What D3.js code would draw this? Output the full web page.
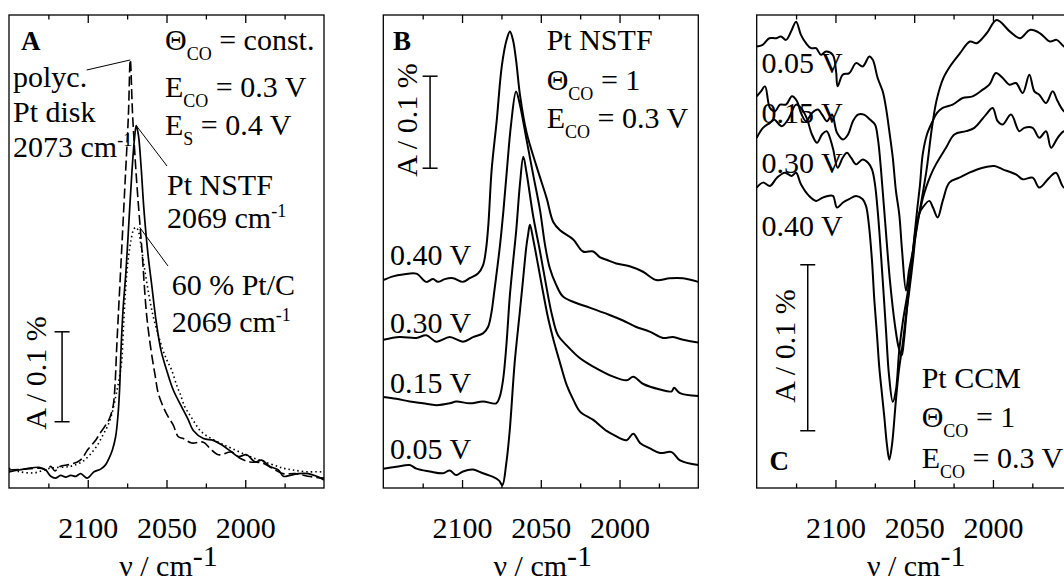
<!DOCTYPE html>
<html>
<head>
<meta charset="utf-8">
<script src="https://cdn.jsdelivr.net/npm/d3@7"></script>
<style>
  body { margin: 0; background: #fff; }
  svg { display: block; font-family: "Liberation Serif", "Times New Roman", serif; }
  text { white-space: pre; fill: #000; }
</style>
</head>
<body>
<svg id="chart" width="1064" height="583"></svg>
<script>
// wavenumber axis (cm-1), same for all three panels
var xDomain = [2150, 1950];
var majorTicks = [2100, 2050, 2000];
var minorTicks = [2125, 2075, 2025, 1975];
var potentials = ["0.40 V", "0.30 V", "0.15 V", "0.05 V"];

// spectra: [wavenumber, absorbance in units of 0.1 %]
// panel A
var specA_disk = [[2150,0.20],[2139.8,0.21],[2130.3,0.22],[2125.7,0.20],[2123.5,0.24],[2120.8,0.19],[2117.6,0.24],[2111.9,0.26],[2106.6,0.29],[2103.5,0.33],[2100.3,0.42],[2095,0.53],[2092.9,0.59],[2088.6,0.70],[2086.5,0.76],[2084,0.90],[2082.7,1.14],[2081.7,1.53],[2080.6,1.92],[2078.4,2.67],[2076.3,3.40],[2074.2,4.14],[2073,4.76],[2071.5,4.14],[2068.9,3.40],[2065.7,2.67],[2062.6,1.92],[2059.8,1.53],[2057.3,1.26],[2055.2,1.05],[2052,0.90],[2048.9,0.79],[2045.7,0.70],[2042.5,0.57],[2039.3,0.55],[2034,0.50],[2026.6,0.51],[2022.4,0.44],[2017.1,0.37],[2008.6,0.40],[2003.3,0.33],[1997,0.29],[1989.4,0.28],[1983,0.22],[1976,0.16],[1968.4,0.16],[1960.2,0.13],[1950,0.11]];
var specA_NSTF = [[2150,0.18],[2143.7,0.20],[2131,0.23],[2126.7,0.20],[2123.5,0.13],[2120.3,0.11],[2117.2,0.14],[2114,0.12],[2110.8,0.14],[2107.6,0.13],[2104.5,0.16],[2100.3,0.11],[2096,0.18],[2091.8,0.21],[2088.6,0.26],[2086.5,0.33],[2084.4,0.42],[2082.3,0.57],[2080.8,0.81],[2079.8,1.09],[2078.9,1.53],[2077.6,1.98],[2075.7,2.42],[2073.8,2.98],[2071.9,3.53],[2070.3,3.89],[2069.2,4.03],[2067.8,3.92],[2066.2,3.59],[2064.3,3.09],[2061.7,2.59],[2059.4,2.26],[2056.7,1.87],[2053.5,1.53],[2049.9,1.31],[2045.7,1.09],[2040.3,0.90],[2036.2,0.76],[2033,0.64],[2026.6,0.55],[2020.3,0.53],[2015,0.48],[2008.6,0.40],[2004.4,0.35],[1999.1,0.37],[1993.8,0.29],[1989.6,0.31],[1984.3,0.24],[1979,0.20],[1975.8,0.13],[1971.6,0.14],[1966.3,0.16],[1960,0.16],[1954.6,0.13],[1950,0.09]];
var specA_PtC = [[2150,0.22],[2143,0.18],[2133.5,0.17],[2124,0.22],[2111.3,0.24],[2103.7,0.29],[2098.6,0.37],[2094.1,0.47],[2090.3,0.59],[2087.1,0.70],[2084.6,0.83],[2082.1,1.03],[2080.2,1.20],[2078.4,1.42],[2077.4,1.76],[2076,2.20],[2074.4,2.53],[2072.5,2.76],[2071,2.87],[2069.6,2.90],[2068.1,2.87],[2066.2,2.70],[2064.3,2.48],[2061.7,2.20],[2058.6,1.92],[2055.2,1.70],[2052.2,1.53],[2049.7,1.42],[2046.7,1.31],[2043.5,1.14],[2041.4,1.05],[2038.3,0.90],[2035.1,0.81],[2031.9,0.72],[2028.7,0.64],[2023.5,0.57],[2016,0.50],[2008.6,0.44],[1997,0.35],[1984.3,0.27],[1975.8,0.22],[1969.5,0.20],[1961,0.18],[1952.5,0.18],[1950,0.17]];

// panel B (Pt NSTF, potential series)
var specB_040 = [[2150,2.26],[2143.8,2.30],[2137.5,2.32],[2129,2.33],[2122.7,2.24],[2118.4,2.27],[2115.3,2.24],[2111,2.27],[2105.7,2.28],[2099.4,2.24],[2095.1,2.28],[2089.9,2.33],[2086.7,2.42],[2084.8,2.59],[2083.3,2.86],[2081.2,3.46],[2078,3.99],[2074.8,4.58],[2071.7,4.87],[2069.6,4.96],[2067.7,4.87],[2065.7,4.65],[2063.2,4.27],[2059,3.86],[2052.6,3.49],[2046.3,3.15],[2042.1,2.89],[2037.8,2.80],[2029.4,2.70],[2023.2,2.57],[2016.7,2.57],[2012.6,2.51],[2008.2,2.48],[2002.1,2.44],[1993.6,2.41],[1985.1,2.35],[1976.7,2.26],[1968.2,2.28],[1959.7,2.28],[1950,2.24]];
var specB_030 = [[2150,1.61],[2139.6,1.64],[2129,1.63],[2122.7,1.66],[2116.3,1.59],[2107.8,1.64],[2099.4,1.59],[2093,1.64],[2086.7,1.68],[2083.5,1.75],[2081.4,1.90],[2079.8,2.10],[2077.8,2.37],[2075.9,2.64],[2073.7,3.02],[2071.5,3.46],[2068.9,3.95],[2065.7,4.31],[2063.2,4.16],[2059,3.78],[2054.8,3.40],[2050.5,3.02],[2047.3,2.64],[2044.3,2.39],[2040.3,2.21],[2035.9,2.08],[2027.5,2.01],[2019,1.96],[2006.3,1.88],[1997.8,1.82],[1989.4,1.75],[1980.9,1.70],[1972.4,1.63],[1966.1,1.64],[1959.7,1.61],[1950,1.58]];
var specB_015 = [[2150,0.99],[2141.7,0.97],[2133.2,0.94],[2124.8,0.92],[2116.3,0.90],[2107.8,0.92],[2103.7,0.94],[2095.1,0.92],[2086.7,0.94],[2078.3,0.92],[2076.1,0.99],[2074,1.17],[2071.9,1.54],[2069.7,2.08],[2067.7,2.44],[2065.6,2.80],[2063.2,3.31],[2061.1,3.60],[2059,3.42],[2054.8,2.95],[2050.5,2.57],[2046.7,2.21],[2042.9,1.88],[2039.1,1.66],[2033.6,1.55],[2025.1,1.41],[2016.7,1.32],[2004,1.21],[1995.5,1.17],[1991.3,1.21],[1984.9,1.13],[1974.3,1.07],[1966.9,1.05],[1965.4,1.09],[1961.6,1.03],[1950,1.00]];
var specB_005 = [[2150,0.21],[2141.7,0.23],[2133.2,0.25],[2129,0.21],[2120.5,0.18],[2112.1,0.16],[2107.8,0.19],[2103.7,0.14],[2099.4,0.18],[2093,0.20],[2086.7,0.16],[2080.3,0.12],[2076.5,0.08],[2074.4,0.03],[2071.9,0.27],[2069.7,0.63],[2066.6,1.36],[2063.4,1.90],[2061.3,2.26],[2059.2,2.62],[2058.1,2.75],[2056.9,2.86],[2054.8,2.70],[2051.6,2.41],[2048.6,2.13],[2045.4,1.85],[2042.1,1.62],[2037.8,1.36],[2033.6,1.12],[2029.4,0.96],[2025.1,0.83],[2016.7,0.74],[2008.2,0.62],[2004,0.58],[1995.5,0.52],[1991.3,0.59],[1987,0.49],[1980.7,0.43],[1974.3,0.38],[1966.9,0.39],[1961.6,0.30],[1950,0.25]];

// panel C (Pt CCM, potential series)
var specC_005 = [[2150,2.66],[2146.2,2.67],[2142,2.71],[2137.7,2.71],[2134.6,2.72],[2131.4,2.70],[2128.2,2.75],[2125,2.81],[2121.9,2.73],[2118.7,2.68],[2115.5,2.65],[2112.3,2.65],[2109.2,2.61],[2106,2.63],[2101.7,2.61],[2099.6,2.51],[2098.6,2.42],[2095.4,2.49],[2091.2,2.50],[2086.9,2.56],[2082.7,2.54],[2078.5,2.60],[2076.3,2.58],[2073.2,2.47],[2070,2.39],[2067.9,2.29],[2065.8,2.15],[2063.6,1.99],[2061.6,1.79],[2059.5,1.65],[2057.7,1.43],[2055.2,1.19],[2053.3,1.31],[2050.8,1.43],[2046.3,1.68],[2042.1,1.92],[2038.9,2.16],[2035.7,2.34],[2031.5,2.47],[2027.3,2.54],[2020.9,2.62],[2014.6,2.69],[2010.3,2.68],[2004,2.74],[1997.6,2.82],[1989.2,2.75],[1982.8,2.71],[1976.5,2.76],[1970.1,2.74],[1963.8,2.69],[1959.5,2.70],[1954.9,2.66],[1950,2.64]];
var specC_015 = [[2150,2.36],[2147.3,2.39],[2144.7,2.42],[2141.6,2.29],[2138.4,2.27],[2135.2,2.31],[2131.4,2.31],[2127.6,2.36],[2124.4,2.33],[2121.9,2.26],[2118.7,2.21],[2114.9,2.26],[2111.1,2.28],[2108.5,2.25],[2105.4,2.21],[2102.2,2.25],[2099,2.14],[2095.2,2.10],[2092,2.13],[2088.9,2.21],[2085.7,2.25],[2081.9,2.25],[2078.1,2.22],[2074.9,2.19],[2073,2.10],[2071.1,1.92],[2068.5,1.61],[2065.4,1.25],[2062.2,0.98],[2059.7,0.84],[2057.9,0.80],[2056.5,0.89],[2054.1,1.13],[2050.8,1.43],[2048.2,1.67],[2046.3,1.83],[2044.6,2.01],[2041.9,2.13],[2038.3,2.21],[2035.5,2.26],[2031.9,2.29],[2025.6,2.31],[2019.2,2.35],[2012.9,2.36],[2006.5,2.40],[2002.3,2.43],[1998.1,2.50],[1993.8,2.47],[1989.6,2.43],[1985.4,2.44],[1981.1,2.38],[1976.9,2.49],[1973.7,2.39],[1970.6,2.37],[1966.3,2.32],[1962.1,2.39],[1958.9,2.33],[1954.9,2.27],[1950,2.25]];
var specC_030 = [[2150,2.11],[2146,2.17],[2141.6,2.20],[2139,2.22],[2134.1,2.18],[2130.1,2.22],[2125,2.31],[2121.9,2.29],[2118.3,2.23],[2114.9,2.13],[2111.7,2.08],[2108.5,2.13],[2105.6,2.15],[2101.7,2.05],[2098.6,1.93],[2095.4,1.99],[2092.7,2.02],[2090.1,1.99],[2086.9,1.95],[2082.7,1.98],[2079.3,1.96],[2076.8,1.92],[2074.9,1.83],[2073,1.65],[2070.4,1.31],[2067.9,0.95],[2066,0.68],[2063.6,0.52],[2061.6,0.59],[2059.5,0.83],[2057.1,1.01],[2054.1,1.18],[2051.4,1.37],[2048.9,1.57],[2046.8,1.65],[2044.4,1.75],[2042.5,1.81],[2039.3,1.89],[2036.2,1.95],[2029.8,2.05],[2024.5,2.13],[2017.1,2.15],[2011.8,2.17],[2004.4,2.25],[2000.2,2.29],[1997,2.21],[1993.8,2.19],[1988.5,2.25],[1983.3,2.15],[1980.1,2.17],[1974.8,2.17],[1970.6,2.11],[1966.3,2.15],[1963.1,2.05],[1958.9,2.11],[1954.9,2.15],[1950,2.14]];
var specC_040 = [[2150,1.81],[2146,1.84],[2141.6,1.82],[2137.1,1.87],[2132.1,1.90],[2127.8,1.88],[2125,1.90],[2121.9,1.83],[2116.8,1.76],[2112.3,1.73],[2108.1,1.75],[2104.7,1.76],[2101.6,1.76],[2099,1.69],[2095.2,1.72],[2091.4,1.74],[2086.9,1.76],[2082.7,1.74],[2080.6,1.70],[2078.7,1.58],[2076.8,1.37],[2075.3,1.13],[2073.6,0.92],[2072.2,0.73],[2070.4,0.56],[2069,0.43],[2067.3,0.26],[2065.8,0.17],[2064.1,0.26],[2061.6,0.53],[2059.7,0.71],[2057.3,0.87],[2055.2,1.04],[2053.1,1.19],[2050.8,1.37],[2048.9,1.54],[2047,1.65],[2044.6,1.69],[2040.4,1.73],[2038.1,1.69],[2035.1,1.63],[2031.9,1.73],[2027.7,1.84],[2021.4,1.87],[2015,1.90],[2006.5,1.93],[1999.1,1.94],[1993.8,1.92],[1985.4,1.89],[1981.1,1.86],[1974.8,1.87],[1970.6,1.81],[1964.2,1.87],[1960,1.90],[1954.9,1.81],[1950,1.84]];

var svg = d3.select("#chart");
var plotTop = 15, plotBottom = 488, plotW = 315;
var serif = '"Liberation Serif", "Times New Roman", serif';

function makePanel(left, yMax, id) {
  var x = d3.scaleLinear().domain(xDomain).range([left, left + plotW]);
  var y = d3.scaleLinear().domain([0, yMax]).range([plotBottom, plotTop]);
  var g = svg.append("g");

  svg.append("clipPath").attr("id", "clip" + id)
    .append("rect").attr("x", left).attr("y", plotTop)
    .attr("width", plotW).attr("height", plotBottom - plotTop);
  var curves = g.append("g").attr("clip-path", "url(#clip" + id + ")");

  g.append("rect")
    .attr("x", left).attr("y", plotTop)
    .attr("width", plotW).attr("height", plotBottom - plotTop)
    .attr("fill", "none").attr("stroke", "#000").attr("stroke-width", 1.3);

  // ticks point inwards on bottom and top edges
  var bottomAxis = g.append("g").attr("transform", "translate(0," + plotBottom + ")")
    .call(d3.axisBottom(x).tickValues(majorTicks).tickSize(-8).tickPadding(29).tickFormat(d3.format("d")));
  g.append("g").attr("transform", "translate(0," + plotBottom + ")")
    .call(d3.axisBottom(x).tickValues(minorTicks).tickSize(-4.5).tickFormat(""));
  g.append("g").attr("transform", "translate(0," + plotTop + ")")
    .call(d3.axisTop(x).tickValues(majorTicks).tickSize(-8).tickFormat(""));
  g.append("g").attr("transform", "translate(0," + plotTop + ")")
    .call(d3.axisTop(x).tickValues(minorTicks).tickSize(-4.5).tickFormat(""));
  g.selectAll(".domain").remove();
  g.selectAll(".tick line").attr("stroke", "#000").attr("stroke-width", 1.3);
  bottomAxis.attr("font-size", 30).attr("font-family", serif);
  bottomAxis.selectAll("text").attr("fill", "#000");

  // axis title
  var t = g.append("text")
    .attr("x", left + plotW / 2 + 2).attr("y", 576)
    .attr("text-anchor", "middle").attr("font-size", 30);
  t.append("tspan").text("\u03bd / cm");
  t.append("tspan").attr("dy", -10).text("-1");

  return { x: x, y: y, g: g, curves: curves };
}

function drawSpec(p, data, width, dash) {
  var line = d3.line()
    .x(function(d) { return p.x(d[0]); })
    .y(function(d) { return p.y(d[1]); })
    .curve(d3.curveCatmullRom.alpha(0.5));
  var path = p.curves.append("path")
    .datum(data)
    .attr("d", line)
    .attr("fill", "none")
    .attr("stroke", "#000")
    .attr("stroke-width", width)
    .attr("stroke-linejoin", "round");
  if (dash) path.attr("stroke-dasharray", dash);
  return path;
}

// segs: [text, mode] with mode 0 normal, 1 subscript, 2 superscript
function richText(x, y, segs, size) {
  size = size || 30;
  var t = svg.append("text").attr("x", x).attr("y", y).attr("font-size", size);
  var shift = 0;
  segs.forEach(function(s) {
    var off = s[1] === 1 ? 10 : (s[1] === 2 ? -11 : 0);
    t.append("tspan")
      .attr("dy", off - shift)
      .attr("font-size", s[1] ? 18 : size)
      .text(s[0]);
    shift = off;
  });
  return t;
}

function scaleBar(p, wn, v0, rotX, rotY) {
  var xb = p.x(wn);
  p.g.append("line").attr("x1", xb).attr("x2", xb)
    .attr("y1", p.y(v0)).attr("y2", p.y(v0 + 1))
    .attr("stroke", "#000").attr("stroke-width", 1.5);
  [v0, v0 + 1].forEach(function(v) {
    p.g.append("line").attr("x1", xb - 7.5).attr("x2", xb + 7.5)
      .attr("y1", p.y(v)).attr("y2", p.y(v))
      .attr("stroke", "#000").attr("stroke-width", 1.5);
  });
  svg.append("text")
    .attr("transform", "translate(" + rotX + "," + rotY + ") rotate(-90)")
    .attr("text-anchor", "middle").attr("font-size", 30)
    .text("A / 0.1 %");
}

function leader(x1, y1, x2, y2) {
  svg.append("line").attr("x1", x1).attr("y1", y1).attr("x2", x2).attr("y2", y2)
    .attr("stroke", "#000").attr("stroke-width", 1);
}

// ---------- panel A ----------
var pA = makePanel(9, 5.26, "A");
drawSpec(pA, specA_PtC, 1.6, "1.5,3");
drawSpec(pA, specA_disk, 1.6, "10,4");
drawSpec(pA, specA_NSTF, 1.7);
scaleBar(pA, 2116.3, 0.737, 46, 373);

svg.append("text").attr("x", 21).attr("y", 50).attr("font-size", 27).attr("font-weight", "bold").text("A");
richText(13, 87, [["polyc.", 0]]);
richText(13, 121.7, [["Pt disk", 0]]);
richText(13, 156.7, [["2073 cm", 0], ["-1", 2]]);
richText(165, 50, [["\u0398", 0], ["CO", 1], [" = const.", 0]]);
richText(165, 96.7, [["E", 0], ["CO", 1], [" = 0.3 V", 0]]);
richText(165, 135, [["E", 0], ["S", 1], [" = 0.4 V", 0]]);
richText(167, 195, [["Pt NSTF", 0]]);
richText(167, 228.3, [["2069 cm", 0], ["-1", 2]]);
richText(171.7, 295, [["60 % Pt/C", 0]]);
richText(171.7, 331.7, [["2069 cm", 0], ["-1", 2]]);

leader(86.7, 70, pA.x(2073), pA.y(4.76));
leader(pA.x(2069.2), pA.y(4.03), 167, 166);
leader(pA.x(2069.6) + 4, pA.y(2.90), 168, 266);

// ---------- panel B ----------
var pB = makePanel(383.3, 5.14, "B");
[specB_040, specB_030, specB_015, specB_005].forEach(function(s) { drawSpec(pB, s, 2); });
scaleBar(pB, 2120.3, 3.475, 416.5, 120);

svg.append("text").attr("x", 393).attr("y", 50).attr("font-size", 27).attr("font-weight", "bold").text("B");
richText(546.7, 50, [["Pt NSTF", 0]]);
richText(546.7, 90, [["\u0398", 0], ["CO", 1], [" = 1", 0]]);
richText(546.7, 128.3, [["E", 0], ["CO", 1], [" = 0.3 V", 0]]);
var potYB = [265, 333.3, 393.3, 459];
potentials.forEach(function(s, i) { richText(390, potYB[i], [[s, 0]]); });

// ---------- panel C ----------
var pC = makePanel(756.7, 2.85, "C");
[specC_005, specC_015, specC_030, specC_040].forEach(function(s) { drawSpec(pC, s, 2); });
scaleBar(pC, 2117.6, 0.345, 795, 346);

svg.append("text").attr("x", 769.5).attr("y", 470).attr("font-size", 27).attr("font-weight", "bold").text("C");
richText(921.7, 388.3, [["Pt CCM", 0]]);
richText(921.7, 427, [["\u0398", 0], ["CO", 1], [" = 1", 0]]);
richText(921.7, 468.3, [["E", 0], ["CO", 1], [" = 0.3 V", 0]]);
var potYC = [236, 173.3, 123.3, 73.3];
potentials.forEach(function(s, i) { richText(761.5, potYC[i], [[s, 0]]); });
</script>
</body>
</html>
